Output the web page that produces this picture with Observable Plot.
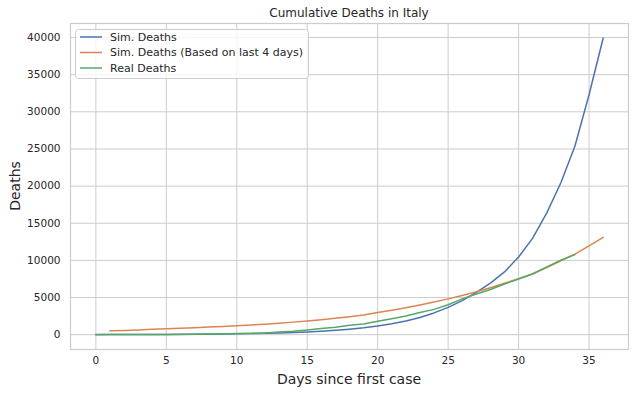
<!DOCTYPE html>
<html>
<head>
<meta charset="utf-8">
<script src="https://cdn.jsdelivr.net/npm/d3@7"></script>
<script src="https://cdn.jsdelivr.net/npm/@observablehq/plot@0.6"></script>
<style>
  html, body { margin: 0; padding: 0; background: #fff; }
  svg { font-family: "DejaVu Sans", sans-serif; display: block; }
</style>
</head>
<body>
<div id="chart"></div>
<script>
const title = "Cumulative Deaths in Italy";
const xLabel = "Days since first case";
const yLabel = "Deaths";
const seriesNames = ["Sim. Deaths", "Sim. Deaths (Based on last 4 days)", "Real Deaths"];
const seriesColors = ["#4C72B0", "#DD8452", "#55A868"];

const simDays = d3.range(0, 37);
const simDeaths = [10, 13, 17, 21, 27, 34, 43, 55, 70, 88, 112, 142, 180, 228, 290, 365, 460, 580, 730, 920,
  1160, 1460, 1840, 2320, 2930, 3680, 4580, 5700, 6950, 8450, 10450, 13000, 16400, 20450, 25400, 32300, 39900];

const sim4Days = d3.range(1, 37);
const sim4Deaths = [515, 570, 640, 720, 800, 870, 940, 1020, 1110, 1210, 1310, 1420, 1550, 1690, 1850, 2020, 2210,
  2420, 2660, 3000, 3300, 3640, 4000, 4400, 4820, 5280, 5780, 6330, 6920, 7550, 8200, 9050, 9950, 10850, 11950, 13100];

const realDays = d3.range(0, 35);
const realDeaths = [7, 10, 12, 17, 21, 29, 34, 52, 79, 107, 148, 197, 233, 366, 463, 631, 827, 1016, 1266, 1441,
  1809, 2158, 2503, 2978, 3405, 4032, 4825, 5476, 6077, 6820, 7503, 8165, 9134, 10023, 10779];

const xTicks = [0, 5, 10, 15, 20, 25, 30, 35];
const yTicks = [0, 5000, 10000, 15000, 20000, 25000, 30000, 35000, 40000];

const rows = [];
simDays.forEach((d, i) => rows.push({day: d, deaths: simDeaths[i], series: seriesNames[0]}));
sim4Days.forEach((d, i) => rows.push({day: d, deaths: sim4Deaths[i], series: seriesNames[1]}));
realDays.forEach((d, i) => rows.push({day: d, deaths: realDeaths[i], series: seriesNames[2]}));

const W = 634, H = 394;
const mL = 70, mR = 6, mT = 23, mB = 45;

const svg = Plot.plot({
  width: W,
  height: H,
  marginLeft: mL,
  marginRight: mR,
  marginTop: mT,
  marginBottom: mB,
  style: {fontFamily: "DejaVu Sans, sans-serif", background: "#fff", color: "#262626"},
  x: {domain: [-1.8, 37.8], axis: null},
  y: {domain: [-1995, 41890], axis: null},
  color: {domain: seriesNames, range: seriesColors},
  marks: [
    Plot.gridX(xTicks, {stroke: "#cccccc", strokeOpacity: 1, strokeWidth: 1}),
    Plot.gridY(yTicks, {stroke: "#cccccc", strokeOpacity: 1, strokeWidth: 1}),
    Plot.frame({stroke: "#cccccc", strokeWidth: 1.2}),
    Plot.text(xTicks, {x: d => d, frameAnchor: "bottom", dy: 14, fontSize: 10.5, fill: "#262626", text: d => String(d)}),
    Plot.text(yTicks, {y: d => d, frameAnchor: "left", dx: -10, textAnchor: "end", fontSize: 10.5, fill: "#262626", text: d => String(d)}),
    Plot.line(rows, {x: "day", y: "deaths", z: "series", stroke: "series", strokeWidth: 1.5})
  ]
});

const s = d3.select(svg);
const cx = mL + (W - mL - mR) / 2;
s.append("text").attr("x", cx).attr("y", 13).attr("text-anchor", "middle").attr("dominant-baseline", "central")
  .attr("font-size", 12).attr("fill", "#262626").text(title);
s.append("text").attr("x", cx).attr("y", 379).attr("text-anchor", "middle").attr("dominant-baseline", "central")
  .attr("font-size", 14).attr("fill", "#262626").text(xLabel);
s.append("text").attr("transform", `translate(15,${mT + (H - mT - mB) / 2}) rotate(-90)`).attr("text-anchor", "middle")
  .attr("dominant-baseline", "central").attr("font-size", 14).attr("fill", "#262626").text(yLabel);

const lg = s.append("g");
lg.append("rect").attr("x", 75.5).attr("y", 29.5).attr("width", 233).attr("height", 49).attr("rx", 3)
  .attr("fill", "#fff").attr("fill-opacity", 0.8).attr("stroke", "#cccccc");
seriesNames.forEach((name, i) => {
  const y = 37 + i * 15.5;
  lg.append("line").attr("x1", 80).attr("x2", 102).attr("y1", y).attr("y2", y)
    .attr("stroke", seriesColors[i]).attr("stroke-width", 1.5);
  lg.append("text").attr("x", 110).attr("y", y).attr("text-anchor", "start").attr("dominant-baseline", "central")
    .attr("font-size", 11).attr("fill", "#262626").text(name);
});

document.getElementById("chart").appendChild(svg);
</script>
</body>
</html>
